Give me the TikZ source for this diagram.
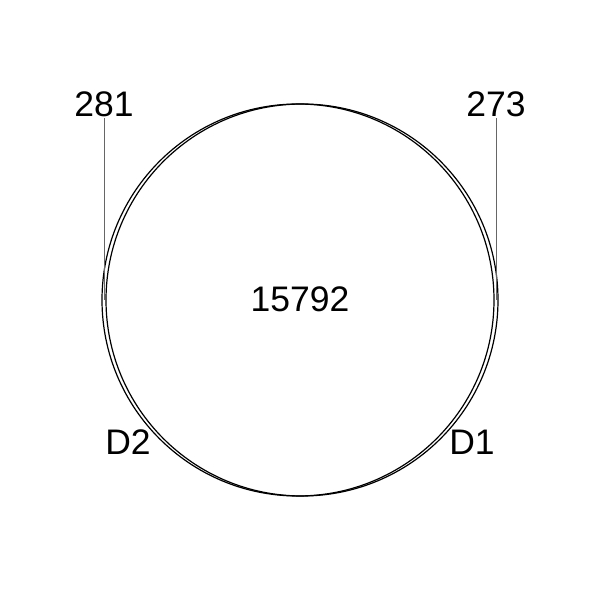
\documentclass[tikz,border=0pt]{standalone}
\usepackage{fontspec}
\setmainfont{Liberation Sans}
\begin{document}
\begin{tikzpicture}[x=1pt,y=1pt,
  setcircle/.style={draw=black,line width=1.2pt},
  lbl/.style={font=\fontsize{35.5}{42}\selectfont,inner sep=0pt,anchor=base},
  leader/.style={draw=black!60,line width=0.7pt}]
\useasboundingbox (0,0) rectangle (600,600);
\draw[setcircle] (298,300) circle (196);
\draw[setcircle] (302,300) circle (196);
\node[lbl] (c) at (300,288) {15792};
\node[lbl] (a) at (104,483.5) {281};
\node[lbl] (b) at (496,483.5) {273};
\node[lbl] (d2) at (128,145) {D2};
\node[lbl] (d1) at (472,145) {D1};
\coordinate (pa) at (104,300);
\coordinate (pb) at (496,300);
\draw[leader] (a.south) ++(0,-1) -- (pa);
\draw[leader] (b.south) ++(0,-1) -- (pb);
\end{tikzpicture}
\end{document}
